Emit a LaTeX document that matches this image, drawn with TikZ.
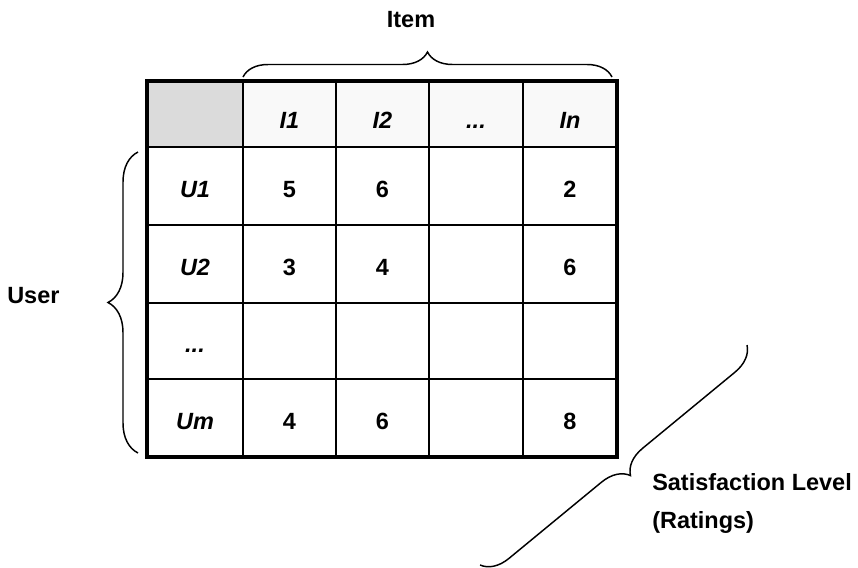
\documentclass[tikz,border=0pt]{standalone}
\usepackage{fontspec}
\setmainfont{Liberation Sans}
\usetikzlibrary{decorations.pathreplacing}
\begin{document}
\begin{tikzpicture}[x=0.75pt,y=-0.75pt,
  lbl/.style={font=\fontsize{17.6}{20}\selectfont\bfseries, inner sep=0pt, anchor=base},
  ilbl/.style={font=\fontsize{17.6}{20}\selectfont\bfseries\itshape, inner sep=0pt, anchor=base},
  brc/.style={decorate, line width=1.1pt},
  inner/.style={line width=1.4pt},
  outer/.style={line width=2.6pt}
]
\useasboundingbox (0,0) rectangle (858,568);
% header shading
\fill[gray!5] (243,81) rectangle (617,147);
\fill[gray!28] (147,81) rectangle (243,147);
% inner grid lines
\foreach \x in {243,336,429,523} \draw[inner] (\x,81) -- (\x,457);
\foreach \y in {147,225,303,379} \draw[inner] (147,\y) -- (617,\y);
\draw[outer] (147,81) rectangle (617,457);
% header labels
\node[ilbl] (h1) at (289.5,128) {I1};
\node[ilbl] (h2) at (382.5,128) {I2};
\node[ilbl] (h3) at (476,128) {...};
\node[ilbl] (h4) at (570,128) {In};
% row labels
\node[ilbl] (r1) at (195,197) {U1};
\node[ilbl] (r2) at (195,275) {U2};
\node[ilbl] (r3) at (195,352) {...};
\node[ilbl] (r4) at (195,429) {Um};
% values
\node[lbl] (v11) at (289.5,197) {5};
\node[lbl] (v12) at (382.5,197) {6};
\node[lbl] (v14) at (570,197) {2};
\node[lbl] (v21) at (289.5,275) {3};
\node[lbl] (v22) at (382.5,275) {4};
\node[lbl] (v24) at (570,275) {6};
\node[lbl] (v41) at (289.5,429) {4};
\node[lbl] (v42) at (382.5,429) {6};
\node[lbl] (v44) at (570,429) {8};
% outer labels
\node[lbl] (item) at (411,27) {Item};
\node[lbl, anchor=base west] (user) at (7,303) {User};
\node[lbl, anchor=base west] (sat) at (652,490) {Satisfaction Level};
\node[lbl, anchor=base west] (rat) at (652,528) {(Ratings)};
% braces
\coordinate (iL) at (243,77);
\coordinate (iR) at (612,77);
\coordinate (uB) at (138,453);
\coordinate (uT) at (138,152);
\coordinate (sT) at (747,345);
\coordinate (sB) at (480,565);
\draw[brc, decoration={brace, amplitude=18.75pt}] (iL) -- (iR);
\draw[brc, decoration={brace, amplitude=22.5pt}] (uB) -- (uT);
\draw[brc, decoration={brace, amplitude=20pt}] (sT) -- (sB);
\end{tikzpicture}
\end{document}
